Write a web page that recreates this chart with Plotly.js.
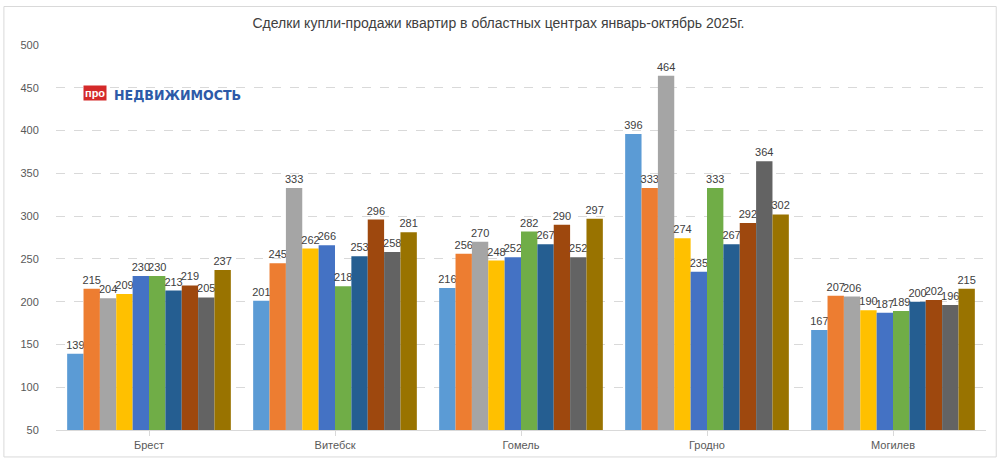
<!DOCTYPE html><html><head><meta charset="utf-8"><script src="https://cdn.plot.ly/plotly-3.0.1.min.js"></script>
<style>body{margin:0}#c{width:997px;height:461px}</style></head><body><div id="c"></div><script>
const categories=["Брест","Витебск","Гомель","Гродно","Могилев"];
const s1=[139,201,216,396,167];
const s2=[215,245,256,333,207];
const s3=[204,333,270,464,206];
const s4=[209,262,248,274,190];
const s5=[230,266,252,235,187];
const s6=[230,218,282,333,189];
const s7=[213,253,267,267,200];
const s8=[219,296,290,292,202];
const s9=[205,258,252,364,196];
const s10=[237,281,297,302,215];
const series=[s1,s2,s3,s4,s5,s6,s7,s8,s9,s10];
const colors=["#5B9BD5","#ED7D31","#A5A5A5","#FFC000","#4472C4","#70AD47","#255E91","#9E480E","#636363","#997300"];
const data=series.map((s,i)=>({type:"bar",x:categories,y:s,marker:{color:colors[i]},text:s.map(String),textposition:"outside",constraintext:"none",cliponaxis:false,textfont:{size:11,color:"#404040"},hoverinfo:"y"}));
Plotly.newPlot("c",data,{width:997,height:461,showlegend:false,bargap:0.12,bargroupgap:0,
margin:{l:56,r:11,t:45,b:31},paper_bgcolor:"#fff",plot_bgcolor:"#fff",
font:{family:"Liberation Sans, Arial",color:"#595959"},
title:{text:"Сделки купли-продажи квартир в областных центрах январь-октябрь 2025г.",font:{size:14,color:"#404040"},x:0.5,y:0.96},
xaxis:{showline:true,linecolor:"#d9d9d9",ticks:"outside",tickcolor:"#d9d9d9",tickfont:{size:11}},
yaxis:{range:[50,500],dtick:50,gridcolor:"#d9d9d9",griddash:"dash",zeroline:false,tickfont:{size:11},ticklen:14,tickcolor:"rgba(0,0,0,0)",ticks:"outside"},
shapes:[{type:"rect",xref:"paper",yref:"paper",x0:-0.056,x1:1.011,y0:-0.07,y1:1.1,line:{color:"#d9d9d9",width:1}}],
annotations:[{xref:"paper",yref:"paper",x:0.029,y:0.895,xanchor:"left",text:"<b>про</b>",showarrow:false,bgcolor:"#d42a2a",font:{color:"#fff",size:11},borderpad:1},
{xref:"paper",yref:"paper",x:0.06,y:0.895,xanchor:"left",text:"<b>НЕДВИЖИМОСТЬ</b>",showarrow:false,font:{color:"#2d5aa8",size:14,family:"DejaVu Sans Condensed, Liberation Sans"}}]
},{displayModeBar:false});
</script></body></html>
